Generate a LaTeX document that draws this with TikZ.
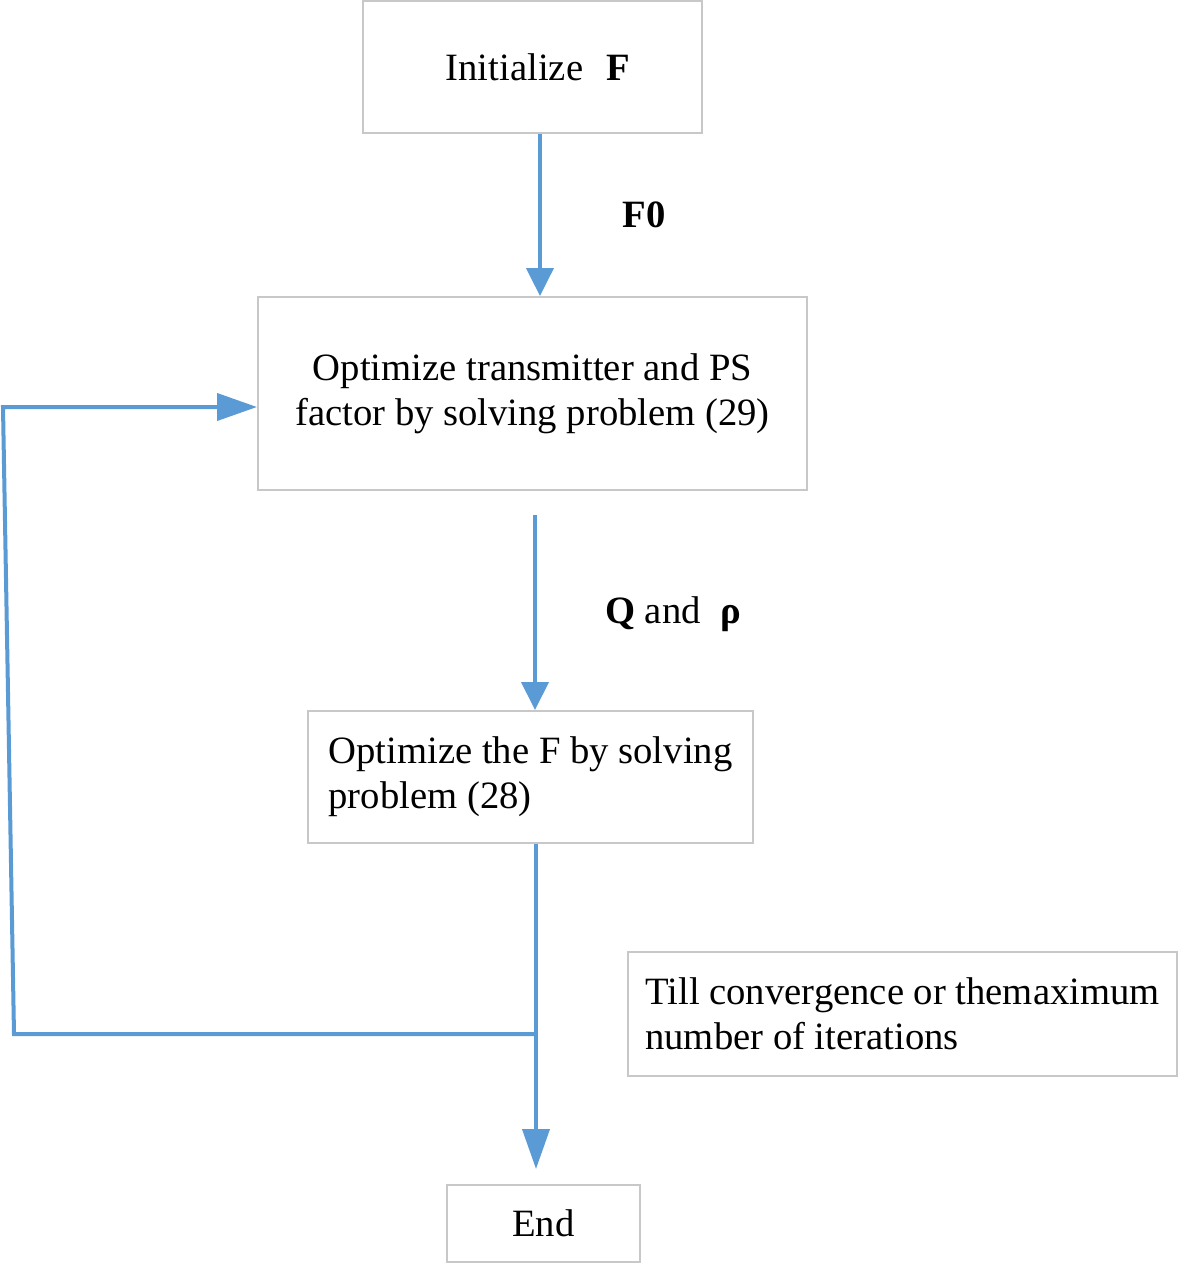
\documentclass[tikz,border=0pt]{standalone}
\usepackage{fontspec}
\setmainfont{Liberation Serif}
\usetikzlibrary{arrows.meta,calc}

\definecolor{flowblue}{RGB}{91,155,213}
\definecolor{boxgray}{RGB}{200,200,200}

\tikzset{every picture/.style={line width=0.75pt}}
\tikzset{
  stepbox/.style={draw=boxgray, line width=1.5pt, inner sep=0.75pt, align=center,
    font=\fontsize{29}{34}\selectfont},
  flowline/.style={draw=flowblue, line width=3pt},
  shorttip/.style={-{Triangle[length=21pt,width=20.25pt]}},
  longtip/.style={-{Triangle[length=30pt,width=20.25pt]}},
  flowlabel/.style={inner sep=0.75pt, font=\fontsize{29}{34}\selectfont}
}

\begin{document}
\begin{tikzpicture}[x=0.75pt,y=0.75pt,yscale=-1,xscale=1]
\useasboundingbox (0,0) rectangle (1183,1265);

% Boxes
\node [stepbox, minimum width=254.25pt, minimum height=99pt] (init) at (532.5,67) {\hspace*{8pt}Initialize\hspace{0.6em}\textbf{F}};
\node [stepbox, minimum width=411.75pt, minimum height=144.75pt] (optA) at (532.5,393.5) {Optimize transmitter and PS\\factor by solving problem (29)};
\node [stepbox, minimum width=333.75pt, minimum height=99pt, align=left] (optB) at (530.5,777) {Optimize the F by solving\\problem (28)};
\node [stepbox, minimum width=411.75pt, minimum height=93pt, align=left] (till) at (902.5,1014) {Till convergence or themaximum\\number of iterations};
\node [stepbox, minimum width=144.75pt, minimum height=57.75pt] (fin) at (543.5,1223.5) {End};

% Labels
\node [flowlabel] (lblF) at (644,215) {\textbf{F0}};
\node [flowlabel] (lblQ) at (673,614) {\textbf{Q} and\hspace{0.5em}\textbf{ρ}};

% Loop corners
\coordinate (join) at (536,1034);
\coordinate (lb) at (14,1034);
\coordinate (lt) at (3,407);

% Connections
\draw [flowline, shorttip] ([xshift=5.6pt]init.south) -- ([xshift=5.6pt]optA.north);
\draw [flowline, shorttip] ($(optA.south)+(2.5,24)$) -- ($(optB.north)+(4.5,0)$);
\draw [flowline, longtip, shorten >=11.25pt] ($(optB.south)+(5.5,0)$) -- ($(fin.north)+(-7.5,0)$);
\draw [flowline, longtip] (join) -- (lb) -- (lt) -- (lt -| optA.west);

\end{tikzpicture}
\end{document}
